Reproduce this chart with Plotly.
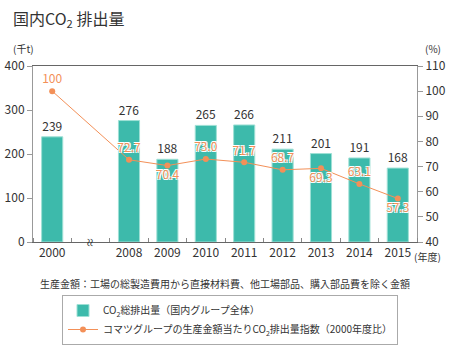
import plotly.graph_objects as go

years = ["2000", "", "2008", "2009", "2010", "2011", "2012", "2013", "2014", "2015"]
co2_total = [239, None, 276, 188, 265, 266, 211, 201, 191, 168]
co2_index = [100, None, 72.7, 70.4, 73.0, 71.7, 68.7, 69.3, 63.1, 57.3]
index_pos = ["top center", "top center", "top center", "bottom center", "top center",
             "top center", "top center", "bottom center", "top center", "bottom center"]
left_ticks = [0, 100, 200, 300, 400]
right_ticks = [40, 50, 60, 70, 80, 90, 100, 110]

FONT = "Noto Sans CJK JP"
TEAL = "#3dbaab"
ORANGE = "#f39058"
TXT = "#333333"
xs = list(range(len(years)))

fig = go.Figure()
fig.add_trace(go.Bar(
    x=xs, y=co2_total, width=0.55,
    marker=dict(color=TEAL, line=dict(color="#9ee0d5", width=1)),
    text=[("" if v is None else str(v)) for v in co2_total],
    textposition="outside", cliponaxis=False,
    textfont=dict(family=FONT, size=12, color=TXT),
    name="CO<sub>2</sub>総排出量（国内グループ全体）",
))
lx = [x for x, v in zip(xs, co2_index) if v is not None]
ly = [v for v in co2_index if v is not None]
lp = [p for p, v in zip(index_pos, co2_index) if v is not None]
lt = [("100" if v == 100 else f"{v:.1f}") for v in ly]
fig.add_trace(go.Scatter(
    x=lx, y=ly, yaxis="y2", mode="lines+markers+text",
    line=dict(color=ORANGE, width=1),
    marker=dict(color=ORANGE, size=6),
    text=lt, textposition=lp, cliponaxis=False,
    textfont=dict(family=FONT, size=12, color=ORANGE,
                  shadow="1px 1px 0 #fff, -1px -1px 0 #fff, 1px -1px 0 #fff, -1px 1px 0 #fff"),
    name="コマツグループの生産金額当たりCO<sub>2</sub>排出量指数（2000年度比）",
))

x0, x1, y0, y1 = 33, 417, 66, 242
def px(x): return (x - x0) / (x1 - x0)
def py(y): return (y1 - y) / (y1 - y0)

fig.update_layout(
    width=450, height=350,
    margin=dict(l=33, r=33, t=66, b=108, autoexpand=False),
    paper_bgcolor="white", plot_bgcolor="white",
    font=dict(family=FONT, size=12, color=TXT),
    showlegend=True,
    xaxis=dict(
        range=[-0.5, 9.5], tickvals=xs, ticktext=years, ticks="",
        showline=True, linecolor="#666", linewidth=1, mirror=True,
        showgrid=False, zeroline=False, fixedrange=True,
        tickfont=dict(size=12, color=TXT),
        minor=dict(tick0=0.5, dtick=1, ticks="inside", ticklen=4, tickcolor="#888", showgrid=False),
    ),
    yaxis=dict(
        range=[0, 400], tickvals=left_ticks, ticks="outside", ticklen=5, tickcolor="#999",
        showline=True, linecolor="#999", showgrid=False, zeroline=False,
        tickfont=dict(size=12, color=TXT),
    ),
    yaxis2=dict(
        range=[40, 110], tickvals=right_ticks, ticks="outside", ticklen=5, tickcolor="#999",
        overlaying="y", side="right",
        showline=True, linecolor="#999", showgrid=False, zeroline=False,
        tickfont=dict(size=12, color=TXT),
    ),
    legend=dict(
        x=px(62), y=py(295), xanchor="left", yanchor="top",
        bordercolor="#aaaaaa", borderwidth=1, bgcolor="white",
        font=dict(family=FONT, size=10, color=TXT),
        tracegroupgap=0, itemwidth=30,
    ),
    annotations=[
        dict(text="国内CO<sub>2</sub> 排出量", x=px(11), y=py(19), xref="paper", yref="paper",
             xanchor="left", yanchor="middle", showarrow=False,
             font=dict(size=16, color=TXT)),
        dict(text="(千t)", x=px(11), y=py(49), xref="paper", yref="paper",
             xanchor="left", yanchor="middle", showarrow=False, font=dict(size=10, color=TXT)),
        dict(text="(%)", x=px(423), y=py(49), xref="paper", yref="paper",
             xanchor="left", yanchor="middle", showarrow=False, font=dict(size=10, color=TXT)),
        dict(text="(年度)", x=px(412), y=py(256), xref="paper", yref="paper",
             xanchor="left", yanchor="middle", showarrow=False, font=dict(size=10, color=TXT)),
        dict(text="≈", x=1, y=0, xref="x", yref="paper", textangle=90,
             xanchor="center", yanchor="middle", showarrow=False, font=dict(size=10, color=TXT)),
        dict(text="生産金額：工場の総製造費用から直接材料費、他工場部品、購入部品費を除く金額",
             x=px(225), y=py(283), xref="paper", yref="paper",
             xanchor="center", yanchor="middle", showarrow=False, font=dict(size=10, color=TXT)),
    ],
)

fig.write_html("out.html")
